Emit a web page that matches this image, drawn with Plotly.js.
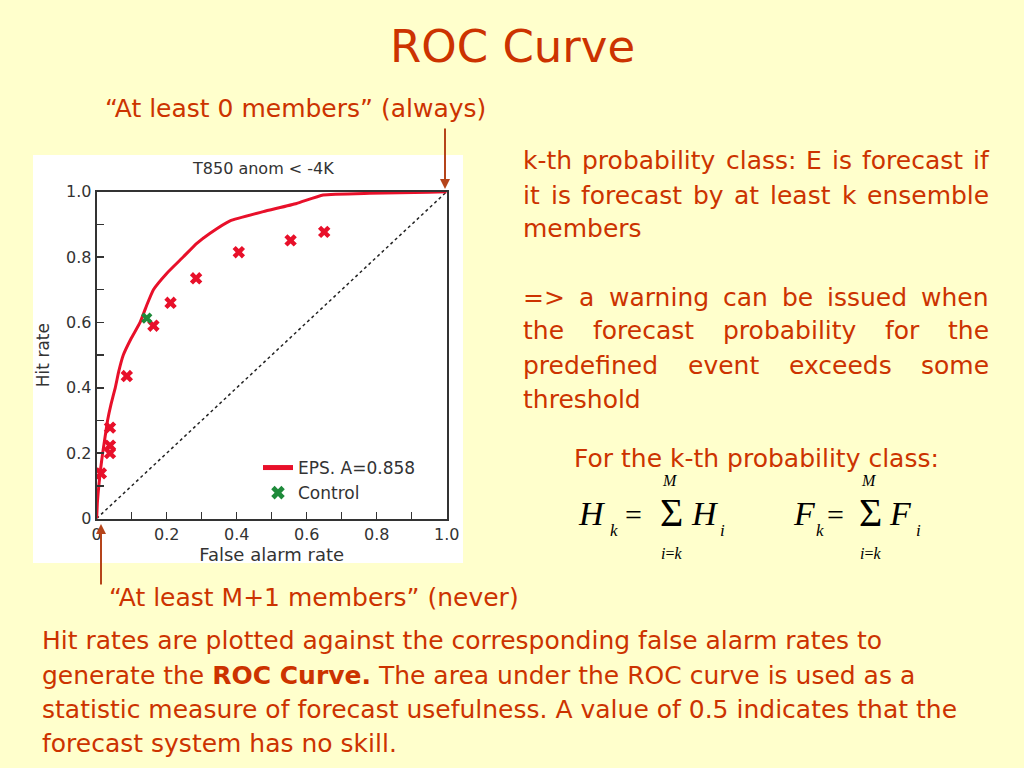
<!DOCTYPE html>
<html>
<head>
<meta charset="utf-8">
<script src="https://cdn.plot.ly/plotly-3.0.1.min.js"></script>
<style>
html,body{margin:0;padding:0;background:#FFFFCC;}
#chart{width:1024px;height:768px;}
</style>
</head>
<body>
<div id="chart"></div>
<script>
// ---------- data ----------
const curveFar = [0, 0.002, 0.006, 0.011, 0.017, 0.024, 0.031, 0.041, 0.053, 0.063, 0.076, 0.098, 0.124, 0.142, 0.162, 0.200, 0.247, 0.286, 0.324, 0.381, 0.476, 0.571, 0.647, 0.780, 0.950, 1.0];
const curveHit = [0, 0.05, 0.10, 0.15, 0.20, 0.25, 0.30, 0.35, 0.40, 0.45, 0.50, 0.55, 0.60, 0.65, 0.70, 0.75, 0.80, 0.842, 0.873, 0.911, 0.939, 0.964, 0.990, 0.995, 0.998, 1.0];
const classFar = [0.012, 0.038, 0.038, 0.038, 0.086, 0.162, 0.211, 0.284, 0.406, 0.554, 0.650];
const classHit = [0.138, 0.200, 0.223, 0.278, 0.436, 0.590, 0.660, 0.735, 0.815, 0.851, 0.877];
const controlFar = [0.143];
const controlHit = [0.613];
const diagFar = [0, 1];
const diagHit = [0, 1];
const tickVals = [0, 0.1, 0.2, 0.3, 0.4, 0.5, 0.6, 0.7, 0.8, 0.9, 1.0];
const xTickText = ['0', '', '0.2', '', '0.4', '', '0.6', '', '0.8', '', '1.0'];
const yTickText = ['0', '', '0.2', '', '0.4', '', '0.6', '', '0.8', '', '1.0'];
const epsName = 'EPS. A=0.858';
const controlName = 'Control';
const chartTitle = 'T850 anom &lt; -4K';
const xTitle = 'False alarm rate';
const yTitle = 'Hit rate';

// ---------- styling ----------
const W = 1024, H = 768;
const BODY = "'DejaVu Sans', sans-serif";
const SERIF = "'Liberation Serif', 'DejaVu Serif', serif";
const CHART = "'DejaVu Sans', sans-serif";
const RED = '#CC3300';
const ARROW = '#B5441A';
const BS = 25;

const anns = [];
function txt(px, py, text, o) {
  o = o || {};
  anns.push({
    xref: 'paper', yref: 'paper', x: px / W, y: 1 - py / H, text: text,
    showarrow: false, xanchor: o.xa || 'left', yanchor: 'middle', borderpad: 0,
    font: {family: o.family || BODY, size: o.size || BS, color: o.color || RED}
  });
}
const cv = document.createElement('canvas').getContext('2d');
function justify(line, x0, x1, py) {
  cv.font = BS + 'px ' + BODY;
  const words = line.split(' ');
  const widths = words.map(w => cv.measureText(w).width);
  const total = widths.reduce((a, b) => a + b, 0);
  const gap = (x1 - x0 - total) / (words.length - 1);
  let x = x0;
  words.forEach((w, i) => { txt(x, py, w.replace(/</g,'&lt;').replace(/>/g,'&gt;')); x += widths[i] + gap; });
}

// slide texts
txt(512, 47, 'ROC Curve', {xa: 'center', size: 45});
txt(104, 108, '\u201CAt least 0 members\u201D (always)');
txt(108, 597, '\u201CAt least M+1 members\u201D (never)');

justify('k-th probability class: E is forecast if', 522, 988, 161);
justify('it is forecast by at least k ensemble', 522, 988, 195);
txt(522, 229, 'members');
justify('=> a warning can be issued when', 522, 988, 297);
justify('the forecast probability for the', 522, 988, 331);
justify('predefined event exceeds some', 522, 988, 365);
txt(522, 399, 'threshold');
txt(573, 458, 'For the k-th probability class:');

const bodyLines = [
  'Hit rates are plotted against the corresponding false alarm rates to',
  'generate the <b>ROC Curve.</b> The area under the ROC curve is used as a',
  'statistic measure of forecast usefulness. A value of 0.5 indicates that the',
  'forecast system has no skill.'
];
[640, 675, 709, 743].forEach((py, i) => txt(41, py, bodyLines[i]));

// formulas
function fm(px, py, t, size) { txt(px, py, t, {xa: 'center', family: SERIF, color: '#000', size: size}); }
function sumSign(px) {
  fm(px, 512, '\u03A3', 40);
  fm(px - 1, 480, '<i>M</i>', 16);
  fm(px, 553, '<i>i</i>=<i>k</i>', 16);
}
fm(592, 513, '<i>H</i>', 34);
fm(614, 530, '<i>k</i>', 17);
fm(633, 514, '=', 30);
sumSign(671);
fm(705, 513, '<i>H</i>', 34);
fm(722, 530, '<i>i</i>', 17);
fm(804, 513, '<i>F</i>', 34);
fm(820, 530, '<i>k</i>', 17);
fm(835, 514, '=', 30);
sumSign(870);
fm(900, 513, '<i>F</i>', 34);
fm(918, 530, '<i>i</i>', 17);

// chart title
txt(263, 168, chartTitle, {xa: 'center', family: CHART, size: 16, color: '#333'});

// arrows
anns.push({xref: 'paper', yref: 'paper', x: 445 / W, y: 1 - 189 / H, ax: 0, ay: -62, text: '',
  showarrow: true, arrowhead: 2, arrowsize: 1, arrowwidth: 2, arrowcolor: ARROW});
anns.push({xref: 'paper', yref: 'paper', x: 101 / W, y: 1 - 524 / H, ax: 0, ay: 62, text: '',
  showarrow: true, arrowhead: 2, arrowsize: 1, arrowwidth: 2, arrowcolor: ARROW});

const traces = [
  {x: diagFar, y: diagHit, mode: 'lines', line: {color: '#222', width: 1.5, dash: 'dot'}, showlegend: false, hoverinfo: 'skip'},
  {x: curveFar, y: curveHit, mode: 'lines', name: epsName, line: {color: '#E8102A', width: 3, shape: 'spline', smoothing: 0.4}},
  {x: classFar, y: classHit, mode: 'markers', showlegend: false, marker: {symbol: 'x', size: 11, color: '#E8102A'}},
  {x: controlFar, y: controlHit, mode: 'markers', name: controlName, marker: {symbol: 'x', size: 10, color: '#1E8A3A'}}
];

const axisCommon = {
  range: [0, 1], showgrid: false, zeroline: false, showline: true, linecolor: '#333', linewidth: 2,
  mirror: true, ticks: 'inside', ticklen: 7, tickwidth: 1.5, tickcolor: '#333',
  tickvals: tickVals, tickfont: {family: CHART, size: 16, color: '#333'}, fixedrange: true
};

const layout = {
  width: W, height: H, margin: {l: 0, r: 0, t: 0, b: 0},
  paper_bgcolor: '#FFFFCC', plot_bgcolor: '#FFFFFF',
  xaxis: Object.assign({}, axisCommon, {domain: [96.7 / W, 446.7 / W], ticktext: xTickText,
    title: {text: xTitle, font: {family: CHART, size: 18, color: '#333'}, standoff: 0}}),
  yaxis: Object.assign({}, axisCommon, {domain: [1 - 518.5 / H, 1 - 191.7 / H], ticktext: yTickText,
    title: {text: yTitle, font: {family: CHART, size: 17, color: '#333'}, standoff: 12}}),
  showlegend: true,
  legend: {x: 258 / W, y: 1 - 450 / H, xanchor: 'left', yanchor: 'top', bgcolor: 'rgba(0,0,0,0)',
    font: {family: CHART, size: 17, color: '#333'}, tracegroupgap: 0, itemsizing: 'constant'},
  shapes: [{type: 'rect', xref: 'paper', yref: 'paper', x0: 33 / W, x1: 463 / W, y0: 1 - 563 / H, y1: 1 - 155 / H,
    fillcolor: '#FFFFFF', line: {width: 0}, layer: 'below'}],
  annotations: anns
};

Plotly.newPlot('chart', traces, layout, {staticPlot: true, displayModeBar: false});
</script>
</body>
</html>
